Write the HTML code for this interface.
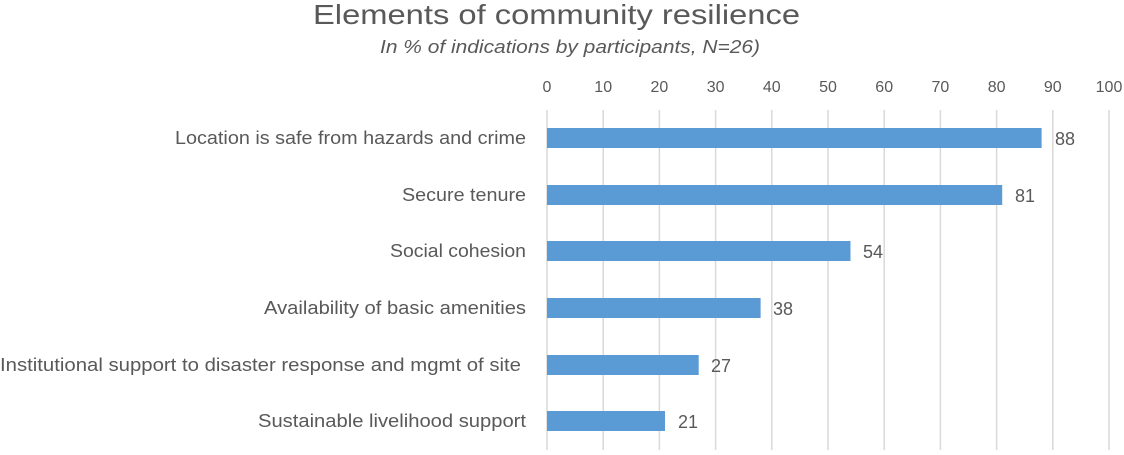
<!DOCTYPE html>
<html><head><style>
body{margin:0;background:#fff;}
svg text{font-family:"Liberation Sans",sans-serif;fill:#595959;}
</style></head><body>
<svg width="1124" height="450" xmlns="http://www.w3.org/2000/svg">
<rect width="1124" height="450" fill="#fff"/>
<text x="313" y="24" font-size="28" textLength="487" lengthAdjust="spacingAndGlyphs">Elements of community resilience</text>
<text x="380" y="53" font-size="18" font-style="italic" textLength="380" lengthAdjust="spacingAndGlyphs">In % of indications by participants, N=26)</text>
<g stroke="#d9d9d9" stroke-width="1.5">
<line x1="547" y1="110" x2="547" y2="450"/><line x1="603.2" y1="110" x2="603.2" y2="450"/>
<line x1="659.4" y1="110" x2="659.4" y2="450"/><line x1="715.6" y1="110" x2="715.6" y2="450"/>
<line x1="771.8" y1="110" x2="771.8" y2="450"/><line x1="828" y1="110" x2="828" y2="450"/>
<line x1="884.2" y1="110" x2="884.2" y2="450"/><line x1="940.4" y1="110" x2="940.4" y2="450"/>
<line x1="996.6" y1="110" x2="996.6" y2="450"/><line x1="1052.8" y1="110" x2="1052.8" y2="450"/>
<line x1="1109" y1="110" x2="1109" y2="450"/>
</g>
<g font-size="16" text-anchor="middle">
<text x="547" y="92">0</text><text x="603.2" y="92">10</text><text x="659.4" y="92">20</text><text x="715.6" y="92">30</text><text x="771.8" y="92">40</text><text x="828" y="92">50</text><text x="884.2" y="92">60</text><text x="940.4" y="92">70</text><text x="996.6" y="92">80</text><text x="1052.8" y="92">90</text><text x="1109" y="92">100</text>
</g>
<g fill="#5b9bd5">
<rect x="547" y="128" width="494.6" height="20"/>
<rect x="547" y="185" width="455.2" height="20"/>
<rect x="547" y="241" width="303.5" height="20"/>
<rect x="547" y="298" width="213.6" height="20"/>
<rect x="547" y="355" width="151.7" height="20"/>
<rect x="547" y="411" width="118" height="20"/>
</g>
<g font-size="18" lengthAdjust="spacingAndGlyphs">
<text x="175" y="144" textLength="351" lengthAdjust="spacingAndGlyphs">Location is safe from hazards and crime</text>
<text x="402" y="201" textLength="124" lengthAdjust="spacingAndGlyphs">Secure tenure</text>
<text x="390" y="257" textLength="136" lengthAdjust="spacingAndGlyphs">Social cohesion</text>
<text x="264" y="314" textLength="262" lengthAdjust="spacingAndGlyphs">Availability of basic amenities</text>
<text x="0" y="371" textLength="521" lengthAdjust="spacingAndGlyphs">Institutional support to disaster response and mgmt of site</text>
<text x="258" y="427" textLength="268" lengthAdjust="spacingAndGlyphs">Sustainable livelihood support</text>
</g>
<g font-size="18" fill="#404040">
<text x="1055" y="145">88</text>
<text x="1015" y="202">81</text>
<text x="863" y="258">54</text>
<text x="773" y="315">38</text>
<text x="711" y="372">27</text>
<text x="678" y="428">21</text>
</g>
</svg>
</body></html>
